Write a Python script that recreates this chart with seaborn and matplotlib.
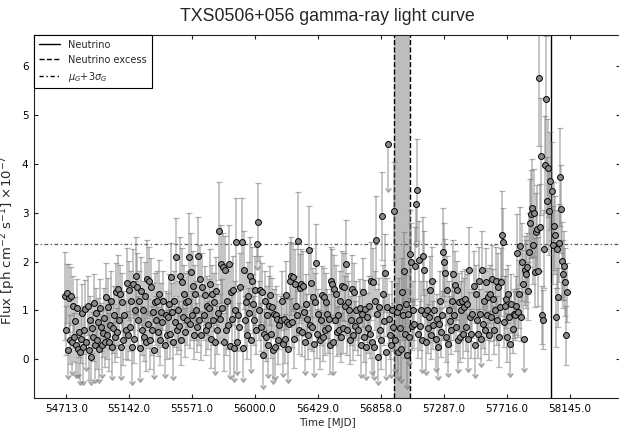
import numpy as np
import matplotlib
matplotlib.use("Agg")
import matplotlib.pyplot as plt
import seaborn as sns
from matplotlib.lines import Line2D

# ---------------- data ----------------
bin_start_mjd = 54704.0   # centre of first weekly bin
bin_days = 7.0

flux = [
    1.29, 0.59, 1.35, 0.18, 1.25, 0.40, 1.30, 0.35, 1.10, 0.45,
    0.78, 0.30, 1.05, 0.20, 0.55, 0.15, 0.42, 0.95, 0.25, 0.60,
    1.02, 0.35, 1.10, 0.18, 0.80, 0.05, 0.63, 0.46, 1.15, 0.30,
    0.95, 0.40, 0.76, 0.20, 1.04, 0.66, 0.30, 0.54, 0.85, 0.35,
    1.27, 0.50, 1.07, 0.35, 0.70, 1.20, 0.25, 0.63, 0.90, 0.45,
    1.37, 0.55, 1.44, 0.80, 1.34, 0.25, 1.17, 0.39, 0.90, 0.60,
    1.57, 0.49, 1.41, 0.66, 1.20, 0.25, 1.55, 0.42, 1.00, 1.71,
    1.48, 0.80, 1.20, 0.22, 1.40, 0.59, 1.00, 0.46, 1.30, 0.35,
    1.65, 0.73, 1.61, 0.39, 1.48, 0.59, 0.97, 0.18, 1.17, 0.80,
    1.20, 0.56, 1.34, 0.39, 0.97, 0.76, 1.20, 0.30, 0.90, 0.50,
    0.86, 1.14, 0.52, 1.68, 0.97, 0.35, 1.20, 0.76, 2.09, 0.60,
    1.00, 0.69, 1.71, 0.39, 1.58, 0.86, 1.34, 0.55, 1.17, 0.80,
    1.20, 2.09, 0.73, 1.78, 0.90, 1.51, 0.50, 1.34, 1.00, 0.65,
    2.11, 0.80, 1.65, 0.49, 1.48, 0.90, 1.31, 0.59, 1.10, 0.70,
    1.04, 1.55, 0.42, 1.34, 0.80, 1.17, 0.35, 1.40, 0.60, 0.95,
    2.63, 0.83, 1.95, 1.04, 1.88, 0.35, 1.82, 0.59, 1.20, 0.70,
    1.95, 0.28, 1.37, 0.83, 1.41, 0.22, 1.00, 2.40, 0.35, 0.90,
    0.66, 1.48, 2.40, 0.22, 1.82, 0.80, 1.17, 0.50, 1.30, 0.95,
    1.71, 0.39, 1.61, 1.14, 0.80, 1.41, 0.60, 2.36, 2.81, 1.00,
    1.41, 0.66, 1.37, 0.08, 0.52, 1.20, 0.46, 0.90, 0.30, 1.10,
    1.31, 0.52, 1.07, 0.18, 0.93, 0.25, 0.90, 0.83, 0.40, 0.70,
    0.80, 1.20, 0.32, 0.83, 0.42, 1.31, 0.76, 0.20, 0.73, 1.60,
    1.71, 0.76, 1.68, 0.42, 1.55, 1.10, 0.90, 2.43, 0.60, 1.45,
    1.55, 0.56, 1.51, 0.97, 0.35, 1.14, 0.83, 0.50, 2.24, 0.70,
    1.57, 0.66, 1.27, 0.32, 1.17, 1.97, 0.52, 0.93, 0.40, 0.80,
    1.31, 0.46, 1.27, 0.59, 1.17, 0.93, 0.63, 0.83, 0.30, 1.61,
    1.55, 0.35, 1.44, 0.80, 1.34, 0.56, 0.90, 0.60, 1.20, 0.45,
    1.51, 0.63, 1.48, 1.10, 1.95, 0.59, 1.17, 1.00, 0.40, 0.80,
    1.44, 0.49, 1.37, 0.69, 1.00, 0.59, 0.80, 1.04, 0.30, 0.93,
    1.37, 0.45, 1.03, 0.25, 0.86, 0.63, 1.10, 0.52, 1.61, 0.35,
    1.58, 0.25, 1.20, 2.44, 0.93, 0.05, 1.07, 0.60, 0.40, 2.94,
    1.34, 0.79, 1.77, 0.15, 1.07, 4.41, 0.83, 0.50, 0.30, 1.00,
    0.66, 3.04, 0.39, 0.96, 0.15, 1.07, 0.63, 0.20, 1.37, 0.90,
    1.80, 0.52, 1.13, 0.08, 0.93, 0.45, 2.16, 1.99, 0.69, 1.00,
    0.73, 1.92, 3.19, 3.47, 0.52, 2.04, 0.69, 1.00, 0.40, 2.12,
    1.82, 0.93, 0.35, 1.00, 0.63, 0.86, 1.41, 0.50, 1.61, 0.70,
    1.00, 0.42, 0.83, 0.25, 0.73, 1.20, 0.55, 0.90, 2.19, 1.99,
    1.76, 0.45, 1.41, 0.32, 1.00, 0.79, 0.60, 1.20, 1.75, 0.90,
    1.52, 0.66, 1.41, 0.39, 1.17, 0.45, 1.00, 1.20, 0.52, 1.07,
    1.24, 0.66, 1.14, 0.42, 1.82, 0.87, 0.52, 0.93, 1.51, 0.30,
    1.34, 0.80, 0.52, 1.61, 0.93, 0.42, 1.83, 0.73, 1.20, 0.60,
    1.58, 0.90, 1.27, 0.49, 1.34, 0.87, 1.65, 1.24, 0.60, 1.00,
    1.61, 0.80, 1.48, 0.45, 1.07, 1.58, 2.54, 2.40, 0.76, 1.10,
    1.24, 0.45, 1.34, 0.87, 0.32, 1.14, 0.62, 0.93, 0.90, 1.10,
    2.18, 0.96, 1.34, 2.32, 0.87, 2.00, 1.54, 0.42, 1.82, 1.75,
    1.88, 1.40, 2.20, 2.79, 2.97, 3.10, 2.35, 3.00, 1.78, 2.60,
    2.67, 1.80, 5.76, 2.70, 4.16, 0.91, 0.81, 2.26, 3.99, 5.33,
    3.25, 3.92, 3.04, 3.65, 3.45, 2.35, 2.73, 2.55, 0.86, 2.25,
    1.27, 2.38, 3.73, 3.08, 2.02, 1.75, 1.92, 1.58, 0.49, 1.37,
]

flux_err = [
    0.9, 0.5, 0.6, 0.5, 0.7, 0.5, 0.6, 0.6, 0.6, 0.5,
    0.5, 0.6, 0.6, 0.5, 0.5, 0.6, 0.5, 0.6, 0.7, 0.5,
    0.6, 0.5, 0.6, 0.6, 0.5, 0.5, 0.5, 0.5, 0.6, 0.7,
    0.5, 0.6, 0.5, 0.6, 0.6, 0.5, 0.6, 0.5, 0.6, 0.5,
    0.7, 0.5, 0.6, 0.6, 0.5, 0.6, 0.6, 0.5, 0.6, 0.5,
    0.6, 0.5, 0.7, 0.5, 0.6, 0.6, 0.6, 0.5, 0.5, 0.6,
    0.7, 0.5, 0.6, 0.5, 0.6, 0.7, 0.7, 0.5, 0.6, 0.8,
    0.7, 0.5, 0.6, 0.6, 0.7, 0.5, 0.6, 0.5, 0.7, 0.6,
    0.8, 0.5, 0.7, 0.6, 0.6, 0.5, 0.6, 0.5, 0.6, 0.5,
    0.6, 0.5, 0.7, 0.5, 0.6, 0.5, 0.6, 0.6, 0.5, 0.5,
    0.5, 0.6, 0.5, 0.7, 0.6, 0.7, 0.6, 0.5, 0.8, 0.5,
    0.6, 0.5, 0.8, 0.5, 0.7, 0.5, 0.6, 0.5, 0.6, 0.5,
    0.6, 0.9, 0.5, 0.8, 0.5, 0.7, 0.5, 0.6, 0.6, 0.5,
    0.8, 0.5, 0.7, 0.5, 0.7, 0.5, 0.6, 0.5, 0.6, 0.5,
    0.6, 0.7, 0.6, 0.6, 0.5, 0.6, 0.6, 0.7, 0.5, 0.6,
    1.0, 0.5, 0.8, 0.6, 0.7, 0.6, 0.7, 0.5, 0.6, 0.5,
    0.8, 0.6, 0.6, 0.5, 0.7, 0.6, 0.6, 0.9, 0.6, 0.5,
    0.5, 0.7, 0.9, 0.6, 0.8, 0.5, 0.6, 0.5, 0.7, 0.5,
    0.8, 0.6, 0.7, 0.6, 0.5, 0.7, 0.5, 0.45, 0.8, 0.6,
    0.7, 0.5, 0.6, 0.6, 0.5, 0.6, 0.5, 0.6, 0.6, 0.6,
    0.6, 0.5, 0.6, 0.6, 0.5, 0.6, 0.6, 0.5, 0.5, 0.5,
    0.5, 0.6, 0.6, 0.5, 0.5, 0.7, 0.5, 0.6, 0.5, 0.8,
    0.8, 0.5, 0.7, 0.6, 0.7, 0.6, 0.5, 1.0, 0.5, 0.7,
    0.7, 0.5, 0.7, 0.5, 0.6, 0.6, 0.5, 0.5, 0.9, 0.5,
    0.7, 0.5, 0.6, 0.6, 0.6, 0.8, 0.5, 0.5, 0.6, 0.5,
    0.6, 0.5, 0.6, 0.5, 0.6, 0.5, 0.5, 0.5, 0.6, 0.7,
    0.7, 0.6, 0.7, 0.5, 0.6, 0.5, 0.5, 0.5, 0.6, 0.5,
    0.7, 0.5, 0.7, 0.6, 0.9, 0.5, 0.6, 0.6, 0.5, 0.5,
    0.7, 0.5, 0.6, 0.5, 0.6, 0.5, 0.5, 0.6, 0.6, 0.5,
    0.7, 0.5, 0.6, 0.6, 0.5, 0.5, 0.6, 0.5, 0.8, 0.6,
    0.7, 0.6, 0.6, 0.9, 0.5, 0.5, 0.6, 0.5, 0.6, 0.9,
    0.6, 0.5, 0.8, 0.5, 0.6, 0.9, 0.5, 0.5, 0.6, 0.6,
    0.5, 1.0, 0.6, 0.6, 0.5, 0.6, 0.5, 0.6, 0.7, 0.5,
    0.8, 0.5, 0.6, 0.6, 0.5, 0.5, 0.9, 0.8, 0.5, 0.6,
    0.5, 0.8, 0.8, 1.05, 0.5, 0.8, 0.5, 0.6, 0.6, 0.8,
    0.8, 0.5, 0.6, 0.6, 0.5, 0.5, 0.7, 0.5, 0.7, 0.5,
    0.6, 0.6, 0.5, 0.6, 0.5, 0.6, 0.5, 0.5, 0.9, 0.8,
    0.7, 0.5, 0.7, 0.6, 0.6, 0.5, 0.5, 0.6, 0.7, 0.5,
    0.7, 0.5, 0.6, 0.6, 0.6, 0.5, 0.6, 0.6, 0.5, 0.6,
    0.6, 0.5, 0.6, 0.6, 0.9, 0.5, 0.5, 0.5, 0.7, 0.6,
    0.6, 0.5, 0.5, 0.7, 0.5, 0.5, 0.8, 0.5, 0.6, 0.5,
    0.7, 0.5, 0.6, 0.5, 0.6, 0.5, 0.7, 0.6, 0.5, 0.6,
    0.7, 0.5, 0.7, 0.6, 0.6, 0.7, 0.9, 0.7, 0.5, 0.6,
    0.6, 0.5, 0.6, 0.5, 0.6, 0.6, 0.5, 0.5, 0.5, 0.6,
    0.8, 0.5, 0.7, 0.8, 0.5, 0.8, 0.7, 0.6, 0.7, 0.7,
    0.7, 0.6, 0.8, 0.9, 0.9, 1.0, 0.8, 0.9, 0.7, 0.8,
    0.9, 0.7, 1.4, 0.9, 1.2, 0.6, 0.6, 0.8, 1.0, 1.3,
    0.9, 1.0, 0.9, 1.0, 1.0, 0.8, 0.9, 0.8, 0.6, 0.8,
    0.6, 0.8, 1.0, 0.9, 0.8, 0.7, 0.7, 0.7, 0.6, 0.6,
]

# bins reported as upper limits (index into the weekly series)
upper_limit_bins = [3, 7, 11, 13, 15, 18, 21, 25, 29, 33, 36, 46, 55, 65, 73,
                    87, 97, 105, 146, 161, 165, 168, 173, 181, 187, 193, 198,
                    203, 205, 212, 217, 234, 243, 261, 288, 293, 299, 301, 305,
                    313, 315, 318, 322, 324, 327, 333, 335, 342, 348, 352, 361,
                    363, 373, 383, 393, 399, 405, 434, 447]

neutrino_mjd = 58018.0
excess_start, excess_end = 56949.0, 57059.0
threshold = 2.37  # mu_G + 3 sigma_G

xtick_values = [54713.0, 55142.0, 55571.0, 56000.0, 56429.0, 56858.0,
                57287.0, 57716.0, 58145.0]

# ---------------- plot ----------------
sns.set_style("ticks", {"xtick.direction": "in", "ytick.direction": "in",
                        "axes.edgecolor": "#222222"})
plt.rcParams["font.family"] = ["DejaVu Sans"]

flux = np.asarray(flux)
flux_err = np.asarray(flux_err)
n = len(flux)
mjd = bin_start_mjd + bin_days * np.arange(n)
ul = np.zeros(n, dtype=bool)
ul[upper_limit_bins] = True

fig = plt.figure(figsize=(6.19, 4.28), dpi=100)
ax = fig.add_axes([34 / 619, 1 - 398 / 428, 586 / 619, (398 - 35) / 428])

ax.axvspan(excess_start, excess_end, color="#bdbdbd", zorder=0, lw=0)
ax.axvline(excess_start, color="black", ls="--", lw=1, zorder=1)
ax.axvline(excess_end, color="black", ls="--", lw=1, zorder=1)
ax.axvline(neutrino_mjd, color="black", ls="-", lw=1, zorder=1)
ax.axhline(threshold, color="#555555", ls=(0, (3, 2, 1, 2)), lw=0.9, zorder=1)

eb = ax.errorbar(mjd, flux, yerr=flux_err, uplims=ul, fmt="none",
                 ecolor="#7a7a7a", elinewidth=1.1, capsize=2, capthick=0.9,
                 alpha=0.55, zorder=2)
for cap in eb[1]:
    cap.set_markerfacecolor("#7a7a7a")
    cap.set_markeredgecolor("#7a7a7a")
    cap.set_color("#7a7a7a")

sns.scatterplot(x=mjd, y=flux, ax=ax, color="#8a8a8a", edgecolor="black",
                s=18, linewidth=0.7, zorder=3, legend=False)

ax.set_xlim(54493, 58489)
ax.set_ylim(-0.795, 6.645)
ax.set_xticks(xtick_values)
ax.set_xticklabels([f"{v:.1f}" for v in xtick_values])
ax.set_yticks(range(0, 7))
ax.tick_params(axis="both", which="major", labelsize=7.5, length=3,
               width=0.8, top=True, right=True, colors="#222222",
               labelcolor="black", pad=4)
for sp in ax.spines.values():
    sp.set_linewidth(0.8)

ax.set_xlabel("Time [MJD]", fontsize=7.5, labelpad=3)
ax.set_ylabel(r"Flux [ph cm$^{-2}$ s$^{-1}$] $\times 10^{-7}$", fontsize=9.5)
ax.yaxis.set_label_coords(-0.027, 0.435)
ax.set_title("TXS0506+056 gamma-ray light curve", fontsize=12.8,
             family=["Liberation Sans", "DejaVu Sans"], pad=10)

handles = [Line2D([0], [0], color="black", lw=1, ls="-"),
           Line2D([0], [0], color="black", lw=1, ls="--"),
           Line2D([0], [0], color="black", lw=1, ls=(0, (3, 2, 1, 2)))]
labels = ["Neutrino", "Neutrino excess", r"$\mu_G$+3$\sigma_G$"]
leg = ax.legend(handles, labels, loc="upper left", fontsize=7,
                borderaxespad=0, fancybox=False, framealpha=1,
                edgecolor="black", handlelength=2.2, borderpad=0.5,
                labelspacing=0.5)
leg.get_frame().set_linewidth(0.8)

fig.savefig("out.png", dpi=100)
